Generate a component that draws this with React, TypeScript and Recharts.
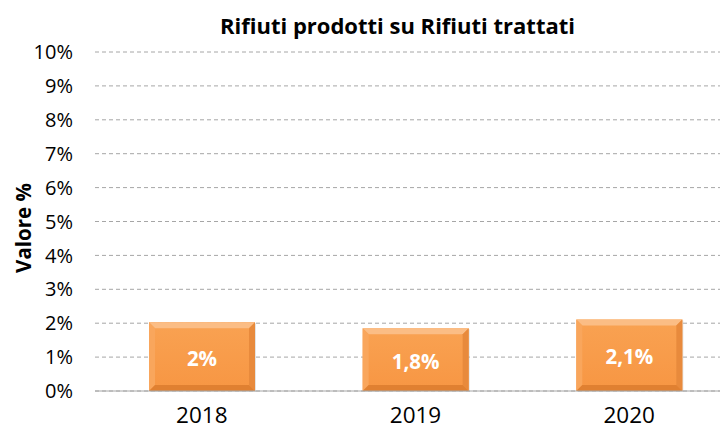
import React from 'react';
import { BarChart, Bar, XAxis, YAxis, CartesianGrid, LabelList } from 'recharts';

const years = ['2018', '2019', '2020'];
const values = [2.03, 1.85, 2.11];
const valueLabels = ['2%', '1,8%', '2,1%'];
const yTicks = [0, 1, 2, 3, 4, 5, 6, 7, 8, 9, 10];

const data = years.map((y, i) => ({ year: y, value: values[i], label: valueLabels[i] }));

const FONT = '"Open Sans", Lato, sans-serif';

const BevelBar = (props: any) => {
  const { x, y, width, height } = props;
  if (!height || height <= 0) return null;
  const b = 6;
  return (
    <g>
      <rect x={x + 1} y={y + 1} width={width} height={height} fill="#C9C9C9" opacity={0.5} />
      <rect x={x} y={y} width={width} height={height} fill="url(#barBody)" />
      <polygon points={`${x},${y} ${x + width},${y} ${x + width - b},${y + b} ${x + b},${y + b}`} fill="#FBBD85" />
      <polygon points={`${x},${y} ${x + b},${y + b} ${x + b},${y + height - b} ${x},${y + height}`} fill="#F9A65C" />
      <polygon points={`${x + width},${y} ${x + width},${y + height} ${x + width - b},${y + height - b} ${x + width - b},${y + b}`} fill="#E88A3C" />
      <polygon points={`${x},${y + height} ${x + width},${y + height} ${x + width - b},${y + height - b} ${x + b},${y + height - b}`} fill="#E08031" />
    </g>
  );
};

const CenterLabel = (props: any) => {
  const { x, y, width, height, value } = props;
  return (
    <text x={x + width / 2} y={y + height / 2 + 1} textAnchor="middle" dominantBaseline="central"
      fill="#FFFFFF" fontFamily={FONT} fontWeight={700} fontSize={20.5}>
      {value}
    </text>
  );
};

export default function App() {
  return (
    <div style={{ position: 'relative', width: 728, height: 439, margin: '-8px 0 0 -8px', overflow: 'hidden', background: '#fff' }}>
      <div style={{ position: 'absolute', left: 0, width: 795, top: 10, textAlign: 'center', fontFamily: FONT, fontWeight: 700, fontSize: 22, color: '#000', lineHeight: '30px' }}>
        Rifiuti prodotti su Rifiuti trattati
      </div>
      <div style={{ position: 'absolute', left: 23, top: 228, transform: 'translate(-50%, -50%) rotate(-90deg)', fontFamily: FONT, fontWeight: 700, fontSize: 20.5, whiteSpace: 'nowrap', color: '#000', lineHeight: '26px' }}>
        Valore %
      </div>
      <div style={{ position: 'absolute', left: 0, top: 0 }}>
        <BarChart width={736} height={439} data={data} margin={{ top: 52, right: 0, bottom: 0, left: 0 }} barSize={106}>
          <defs>
            <linearGradient id="barBody" x1="0" y1="0" x2="0" y2="1">
              <stop offset="0%" stopColor="#F9A252" />
              <stop offset="100%" stopColor="#F79643" />
            </linearGradient>
          </defs>
          <CartesianGrid vertical={false} stroke="#A6A6A6" strokeDasharray="4 3" />
          <XAxis dataKey="year" axisLine={{ stroke: '#A6A6A6' }} tickLine={false} height={48} tickMargin={10}
            tick={{ fill: '#000', fontFamily: FONT, fontSize: 22.5 }} />
          <YAxis domain={[0, 10]} ticks={yTicks} width={95} axisLine={false} tickLine={false} tickSize={0} tickMargin={22}
            tickFormatter={(v: number) => `${v}%`} tick={{ fill: '#000', fontFamily: FONT, fontSize: 20 }} interval={0} />
          <Bar dataKey="value" isAnimationActive={false} shape={BevelBar}>
            <LabelList dataKey="label" content={CenterLabel} />
          </Bar>
        </BarChart>
      </div>
    </div>
  );
}
